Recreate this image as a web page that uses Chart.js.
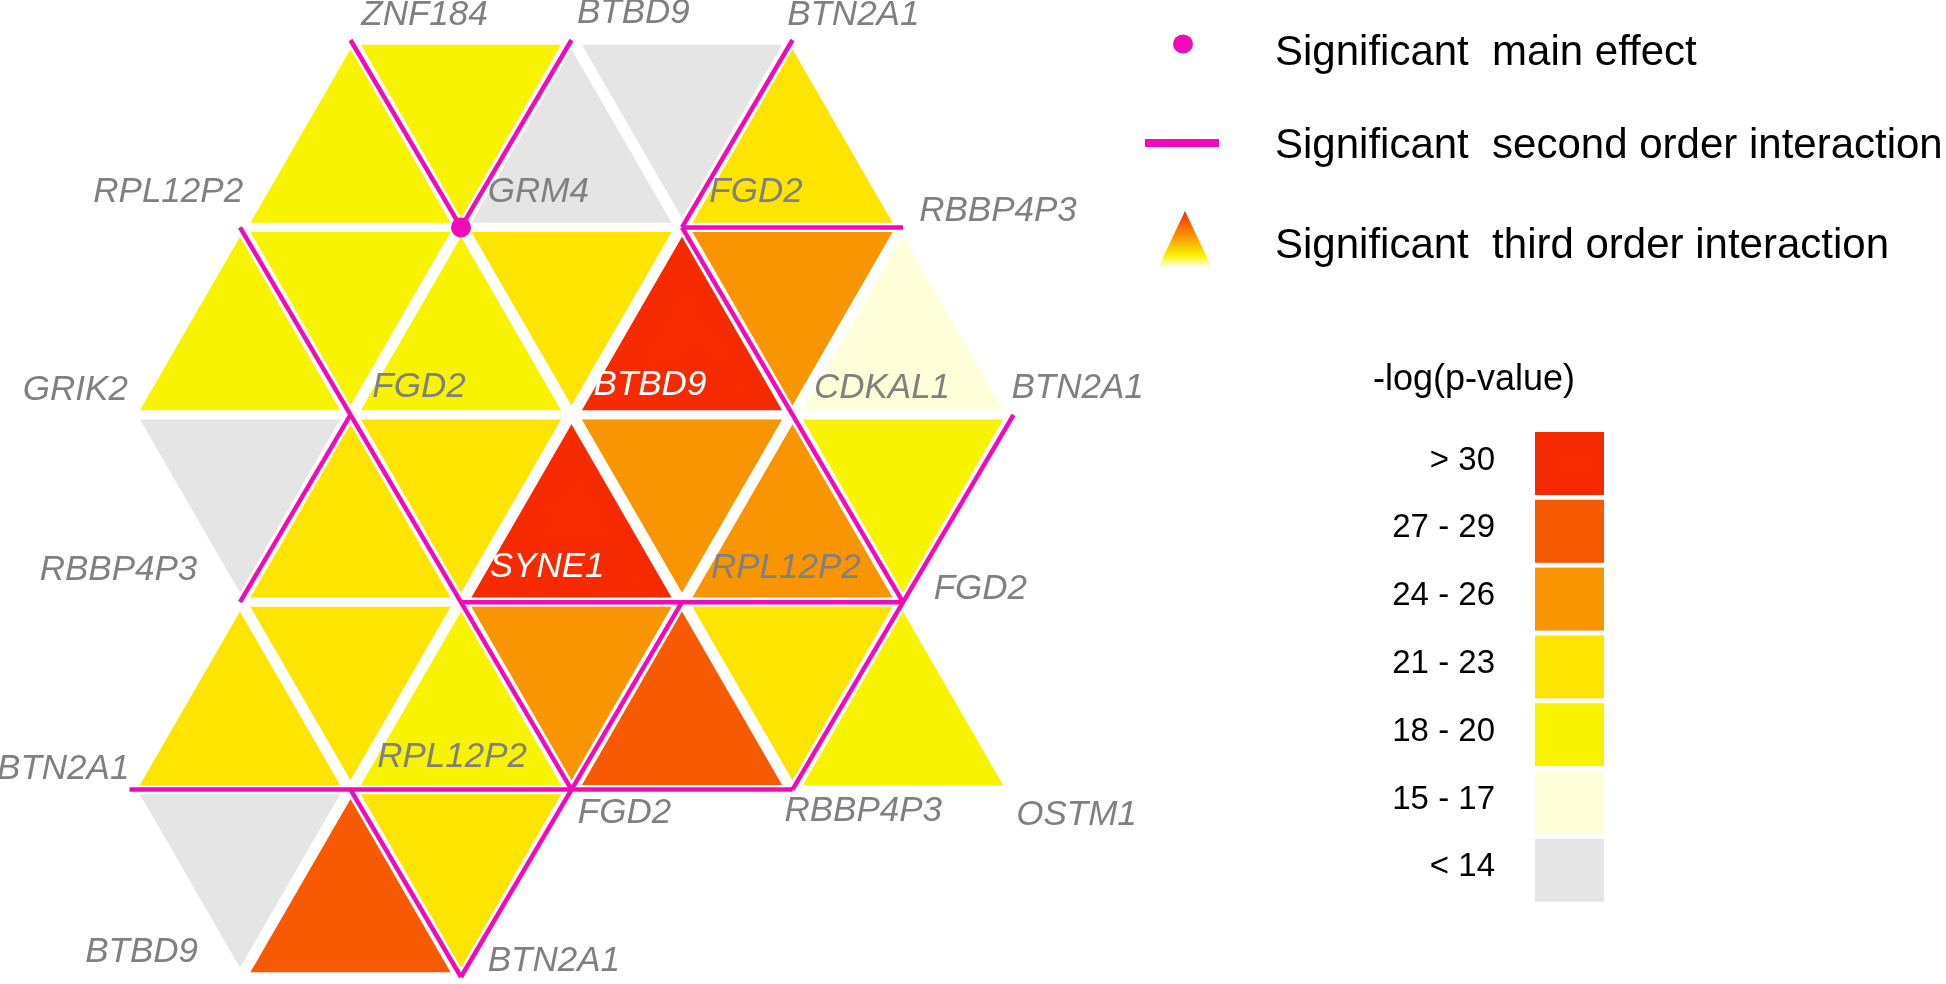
<!DOCTYPE html>
<html>
<head>
<meta charset="utf-8">
<script src="https://cdn.jsdelivr.net/npm/chart.js@4.4.0/dist/chart.umd.min.js"></script>
<style>
  html, body { margin: 0; padding: 0; background: #fff; }
  canvas { display: block; }
</style>
</head>
<body>
<canvas id="myChart" width="1946" height="984"></canvas>
<script>
// -log(p-value) classes, strongest first
var levelLabels = ['> 30', '27 - 29', '24 - 26', '21 - 23', '18 - 20', '15 - 17', '< 14'];
var levelColors = ['#f52a00', '#f75a00', '#f99500', '#fde500', '#f8f400', '#fefed8', '#e5e5e5'];

// triangle cells, strip by strip; first lattice column of each strip
var rowFirstCol = [2, 1, 1, 1, 1];
// class index (into levelLabels) of each cell, left to right
var rowLevels = [
	[4, 4, 6, 6, 3],
	[4, 4, 4, 3, 0, 2, 5],
	[6, 3, 3, 0, 2, 2, 4],
	[3, 3, 4, 2, 1, 3, 4],
	[6, 1, 3]
];

// significant main effect, lattice node [row line, column]
var mainEffects = [[1, 3]];

// significant second order interactions, lattice edges [row, col] -> [row, col]
var secondOrder = [
	[[0, 2], [1, 3]],
	[[0, 4], [1, 3]],
	[[0, 6], [1, 5]],
	[[1, 5], [1, 7]],
	[[1, 5], [3, 7]],
	[[2, 8], [4, 6]],
	[[1, 1], [4, 4]],
	[[2, 2], [3, 1]],
	[[3, 3], [3, 7]],
	[[4, 0], [4, 6]],
	[[3, 5], [4, 4]],
	[[4, 2], [5, 3]],
	[[4, 4], [5, 3]]
];

// gene names written round the lattice
var geneNames = ['ZNF184', 'BTBD9', 'BTN2A1', 'RPL12P2', 'GRM4', 'FGD2', 'RBBP4P3',
	'GRIK2', 'FGD2', 'BTBD9', 'CDKAL1', 'BTN2A1', 'RBBP4P3', 'SYNE1', 'RPL12P2', 'FGD2',
	'BTN2A1', 'RPL12P2', 'FGD2', 'RBBP4P3', 'OSTM1', 'BTBD9', 'BTN2A1'];

var pink = '#f00ab8';

// where each gene name sits, in lattice units [row, col]
var geneAnchors = [
	[-0.132, 2.67], [-0.142, 4.56], [-0.132, 6.55], [0.812, 0.35], [0.812, 3.70], [0.812, 5.67], [0.913, 7.86],
	[1.867, -0.49], [1.852, 2.62], [1.842, 4.71], [1.857, 6.81], [1.857, 8.58], [2.831, -0.10], [2.811, 3.78],
	[2.821, 5.94], [2.931, 7.70], [3.89, -0.60], [3.825, 2.92], [4.126, 4.48], [4.116, 6.64], [4.136, 8.57],
	[4.869, 0.11], [4.915, 3.84]
];

//build cell points (centroid of each triangle)
var upCells = [], downCells = [];
rowLevels.forEach(function(levels, r) {
	levels.forEach(function(lv, k) {
		var c = rowFirstCol[r] + k;
		var up = (r + c) % 2 === 0;
		var pt = {x: c, y: r + (up ? 2 / 3 : 1 / 3), level: lv};
		(up ? upCells : downCells).push(pt);
	});
});

var cellGap = 12;
function cellRadius(ctx) {
	var xs = ctx.chart.scales.x;
	var side = xs.getPixelForValue(2) - xs.getPixelForValue(0);
	return (side - cellGap * Math.sqrt(3)) / Math.sqrt(3);
}
function cellColor(ctx) {
	return levelColors[ctx.raw.level];
}

var datasets = [
	{
		label: 'up', data: upCells, order: 3,
		pointStyle: 'triangle', rotation: 0,
		pointRadius: cellRadius, pointBackgroundColor: cellColor, pointBorderWidth: 0
	},
	{
		label: 'down', data: downCells, order: 3,
		pointStyle: 'triangle', rotation: 180,
		pointRadius: cellRadius, pointBackgroundColor: cellColor, pointBorderWidth: 0
	}
];

secondOrder.forEach(function(seg, n) {
	datasets.push({
		label: 'pair' + n,
		type: 'line',
		data: [{x: seg[0][1], y: seg[0][0]}, {x: seg[1][1], y: seg[1][0]}],
		order: 2,
		borderColor: pink,
		borderWidth: 4.5,
		pointRadius: 0,
		fill: false,
		tension: 0
	});
});

datasets.push({
	label: 'main',
	data: mainEffects.map(function(m) { return {x: m[1], y: m[0]}; }),
	order: 1,
	pointStyle: 'circle',
	pointRadius: 10,
	pointBackgroundColor: pink,
	pointBorderWidth: 0
});

var whiteBg = {
	id: 'whiteBg',
	beforeDraw: function(chart) {
		var ctx = chart.ctx;
		ctx.save();
		ctx.fillStyle = '#ffffff';
		ctx.fillRect(0, 0, chart.width, chart.height);
		ctx.restore();
	}
};

var geneLabels = {
	id: 'geneLabels',
	afterDatasetsDraw: function(chart) {
		var ctx = chart.ctx, xs = chart.scales.x, ys = chart.scales.y;
		ctx.save();
		ctx.font = 'italic 35px "Liberation Sans", Arial, sans-serif';
		ctx.textAlign = 'center';
		ctx.textBaseline = 'middle';
		geneNames.forEach(function(name, n) {
			var a = geneAnchors[n];
			// names sitting on the darkest cells are written in white
			ctx.fillStyle = (n === 9 || n === 13) ? '#ffffff' : '#808080';
			ctx.fillText(name, xs.getPixelForValue(a[1]), ys.getPixelForValue(a[0]));
		});
		ctx.restore();
	}
};

var keyPlugin = {
	id: 'keyPlugin',
	afterDraw: function(chart) {
		var ctx = chart.ctx;
		ctx.save();
		// symbols
		ctx.fillStyle = pink;
		ctx.beginPath();
		ctx.ellipse(1183, 44, 10, 9.5, 0, 0, Math.PI * 2);
		ctx.fill();
		ctx.fillRect(1145, 139, 74, 8);
		var g = ctx.createLinearGradient(0, 211, 0, 268);
		g.addColorStop(0, '#f52a00');
		g.addColorStop(0.4, '#fa8a00');
		g.addColorStop(0.78, '#f9f200');
		g.addColorStop(1, '#ffffff');
		ctx.fillStyle = g;
		ctx.beginPath();
		ctx.moveTo(1185, 211);
		ctx.lineTo(1212, 268);
		ctx.lineTo(1158, 268);
		ctx.closePath();
		ctx.fill();

		ctx.fillStyle = '#000000';
		ctx.textAlign = 'left';
		ctx.textBaseline = 'alphabetic';
		ctx.font = '42px "Liberation Sans", Arial, sans-serif';
		ctx.fillText('Significant  main effect', 1275, 65);
		ctx.fillText('Significant  second order interaction', 1275, 158);
		ctx.fillText('Significant  third order interaction', 1275, 258);

		// colour scale
		ctx.textAlign = 'center';
		ctx.font = '36px "Liberation Sans", Arial, sans-serif';
		ctx.fillText('-log(p-value)', 1474, 390);
		ctx.textAlign = 'right';
		ctx.font = '33px "Liberation Sans", Arial, sans-serif';
		levelLabels.forEach(function(lab, k) {
			var top = 432 + 67.8 * k;
			ctx.fillStyle = levelColors[k];
			ctx.fillRect(1535, top, 69, 63);
			ctx.fillStyle = '#000000';
			ctx.fillText(lab, 1495, top + 31.5 + 6);
		});
		ctx.restore();
	}
};

var myChart = document.getElementById('myChart').getContext('2d');
var triChart = new Chart(myChart, {
	type: 'scatter',
	data: {datasets: datasets},
	options: {
		responsive: false,
		animation: false,
		events: [],
		layout: {padding: 0, autoPadding: false},
		plugins: {
			legend: {display: false},
			tooltip: {enabled: false}
		},
		scales: {
			// lattice column j sits at 129.5 + 110.5 j px, row line i at 40 + 187.4 i px
			x: {type: 'linear', display: false, min: -1.172, max: 16.439},
			y: {type: 'linear', display: false, reverse: true, min: -0.2134, max: 5.0373}
		}
	},
	plugins: [whiteBg, geneLabels, keyPlugin]
});
</script>
</body>
</html>
